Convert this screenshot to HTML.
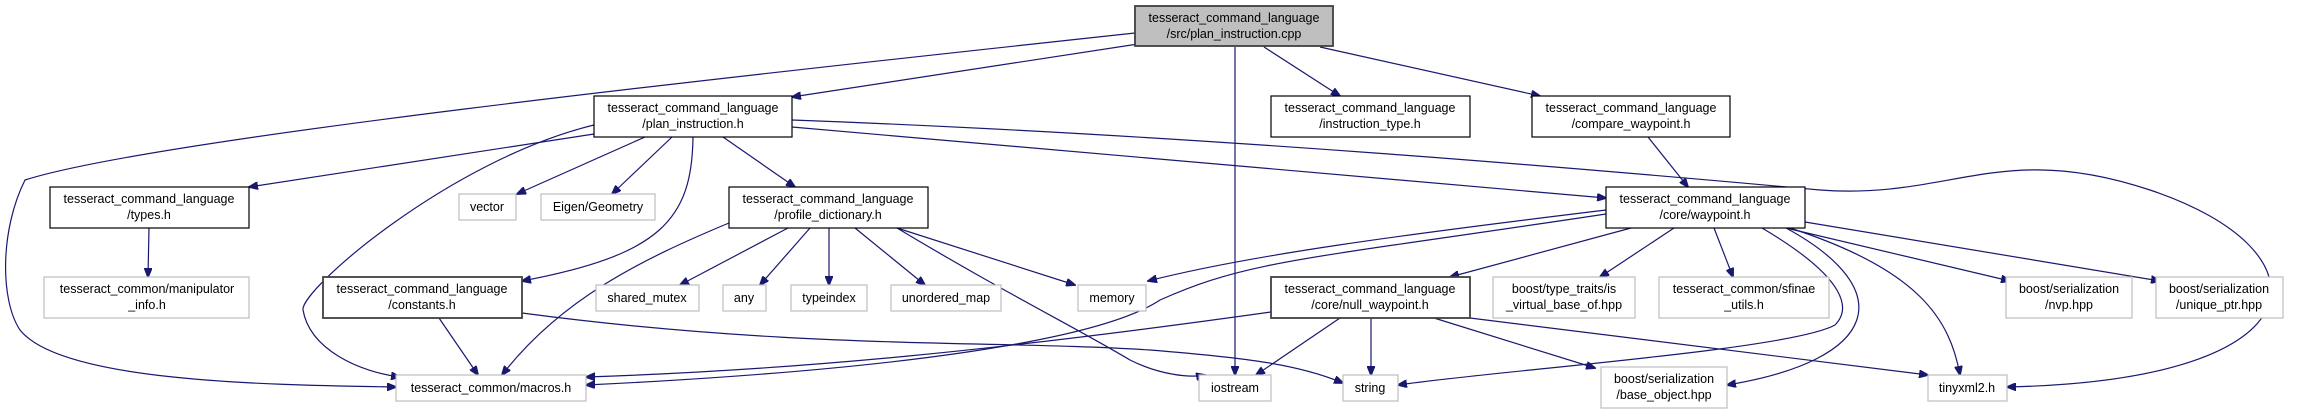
<!DOCTYPE html>
<html><head><meta charset="utf-8"><style>
html,body{margin:0;padding:0;background:#fff;}
svg{display:block;}
text{font-family:"Liberation Sans",sans-serif;font-size:12.5px;fill:#000;text-anchor:middle;}
.e{fill:none;stroke:#191970;stroke-width:1.2;marker-end:url(#a);}
.b{fill:#fff;stroke:#000;stroke-width:1.2;}
.d{fill:#fff;stroke:#404040;stroke-width:1.8;}
.g{fill:#fff;stroke:#bfbfbf;stroke-width:1.2;}
</style></head><body>
<svg width="2316" height="409" viewBox="0 0 2316 409" xmlns="http://www.w3.org/2000/svg">
<defs><marker id="a" markerWidth="10" markerHeight="8" refX="9" refY="4" orient="auto" markerUnits="userSpaceOnUse"><path d="M0,0 L10,4 L0,8 z" fill="#191970" stroke="#191970"/></marker></defs>
<!-- edges -->
<path class="e" d="M1135,33 C700,80 150,140 25,180 C0,230 0,300 20,330 C60,380 250,385 396,387"/>
<path class="e" d="M1138,44 L792,97"/>
<path class="e" d="M1235,47 L1235,375"/>
<path class="e" d="M1264,47 L1340,96"/>
<path class="e" d="M1320,47 L1540,96"/>
<path class="e" d="M594,134 L249,187"/>
<path class="e" d="M645,137 L517,194"/>
<path class="e" d="M672,137 L612,194"/>
<path class="e" d="M723,137 L795,187"/>
<path class="e" d="M693,137 C692,220 660,255 522,281"/>
<path class="e" d="M594,125 C450,160 300,290 303,310 C310,350 360,372 400,377"/>
<path class="e" d="M792,127 L1606,198"/>
<path class="e" d="M792,120 C1200,135 1600,170 1820,190 C1950,200 2000,140 2150,190 C2330,250 2330,380 2007,387"/>
<path class="e" d="M149,228 L148,277"/>
<path class="e" d="M788,228 L680,285"/>
<path class="e" d="M810,228 L760,285"/>
<path class="e" d="M829,228 L829,285"/>
<path class="e" d="M855,228 L925,285"/>
<path class="e" d="M897,228 L1075,285"/>
<path class="e" d="M897,228 C1000,290 1080,330 1130,360 C1160,375 1190,378 1205,375"/>
<path class="e" d="M729,223 C640,260 560,300 502,375"/>
<path class="e" d="M439,318 L478,375"/>
<path class="e" d="M522,313 C800,350 1000,340 1150,350 C1250,358 1300,365 1343,383"/>
<path class="e" d="M1648,137 L1688,187"/>
<path class="e" d="M1606,210 C1400,235 1250,255 1148,281"/>
<path class="e" d="M1606,214 C1300,260 1250,260 1160,300 C1100,340 900,370 586,385"/>
<path class="e" d="M1271,312 C1000,350 800,370 586,377"/>
<path class="e" d="M1631,228 L1450,277"/>
<path class="e" d="M1674,228 L1600,277"/>
<path class="e" d="M1714,228 L1733,277"/>
<path class="e" d="M1786,228 L2010,281"/>
<path class="e" d="M1805,222 L2160,281"/>
<path class="e" d="M1762,228 C1850,280 1850,310 1835,325 C1790,350 1500,370 1398,385"/>
<path class="e" d="M1786,228 C1900,290 1880,360 1727,385"/>
<path class="e" d="M1790,228 C1920,270 1950,320 1960,375"/>
<path class="e" d="M1340,318 L1256,375"/>
<path class="e" d="M1371,318 L1371,375"/>
<path class="e" d="M1434,318 L1595,368"/>
<path class="e" d="M1470,318 L1928,375"/>
<!-- nodes -->
<rect x="1135" y="6" width="198" height="40" fill="#bfbfbf" stroke="#404040" stroke-width="1.8"/>
<text x="1234" y="22">tesseract_command_language</text><text x="1234" y="38">/src/plan_instruction.cpp</text>

<rect class="b" x="594" y="96" width="198" height="41"/>
<text x="693" y="112">tesseract_command_language</text><text x="693" y="128">/plan_instruction.h</text>

<rect class="b" x="1271" y="96" width="199" height="41"/>
<text x="1370" y="112">tesseract_command_language</text><text x="1370" y="128">/instruction_type.h</text>

<rect class="b" x="1532" y="96" width="198" height="41"/>
<text x="1631" y="112">tesseract_command_language</text><text x="1631" y="128">/compare_waypoint.h</text>

<rect class="b" x="50" y="187" width="199" height="41"/>
<text x="149" y="203">tesseract_command_language</text><text x="149" y="219">/types.h</text>

<rect class="g" x="459" y="194" width="57" height="26"/><text x="487" y="211">vector</text>
<rect class="g" x="541" y="194" width="114" height="26"/><text x="598" y="211">Eigen/Geometry</text>

<rect class="b" x="729" y="187" width="199" height="41"/>
<text x="828" y="203">tesseract_command_language</text><text x="828" y="219">/profile_dictionary.h</text>

<rect class="b" x="1606" y="187" width="199" height="41"/>
<text x="1705" y="203">tesseract_command_language</text><text x="1705" y="219">/core/waypoint.h</text>

<rect class="g" x="44" y="277" width="205" height="41"/>
<text x="147" y="293">tesseract_common/manipulator</text><text x="147" y="309">_info.h</text>

<rect class="d" x="323" y="277" width="199" height="41"/>
<text x="422" y="293">tesseract_command_language</text><text x="422" y="309">/constants.h</text>

<rect class="g" x="596" y="285" width="103" height="26"/><text x="647" y="302">shared_mutex</text>
<rect class="g" x="723" y="285" width="43" height="26"/><text x="744" y="302">any</text>
<rect class="g" x="791" y="285" width="76" height="26"/><text x="829" y="302">typeindex</text>
<rect class="g" x="891" y="285" width="110" height="26"/><text x="946" y="302">unordered_map</text>
<rect class="g" x="1078" y="285" width="68" height="26"/><text x="1112" y="302">memory</text>

<rect class="d" x="1271" y="277" width="199" height="41"/>
<text x="1370" y="293">tesseract_command_language</text><text x="1370" y="309">/core/null_waypoint.h</text>

<rect class="g" x="1493" y="277" width="142" height="41"/>
<text x="1564" y="293">boost/type_traits/is</text><text x="1564" y="309">_virtual_base_of.hpp</text>

<rect class="g" x="1659" y="277" width="170" height="41"/>
<text x="1744" y="293">tesseract_common/sfinae</text><text x="1744" y="309">_utils.h</text>

<rect class="g" x="2006" y="277" width="126" height="41"/>
<text x="2069" y="293">boost/serialization</text><text x="2069" y="309">/nvp.hpp</text>

<rect class="g" x="2156" y="277" width="127" height="41"/>
<text x="2219" y="293">boost/serialization</text><text x="2219" y="309">/unique_ptr.hpp</text>

<rect class="g" x="396" y="375" width="190" height="26"/><text x="491" y="392">tesseract_common/macros.h</text>
<rect class="g" x="1199" y="375" width="72" height="26"/><text x="1235" y="392">iostream</text>
<rect class="g" x="1343" y="375" width="55" height="26"/><text x="1370" y="392">string</text>
<rect class="g" x="1601" y="367" width="126" height="41"/>
<text x="1664" y="383">boost/serialization</text><text x="1664" y="399">/base_object.hpp</text>
<rect class="g" x="1928" y="375" width="79" height="26"/><text x="1967" y="392">tinyxml2.h</text>
</svg>
</body></html>
